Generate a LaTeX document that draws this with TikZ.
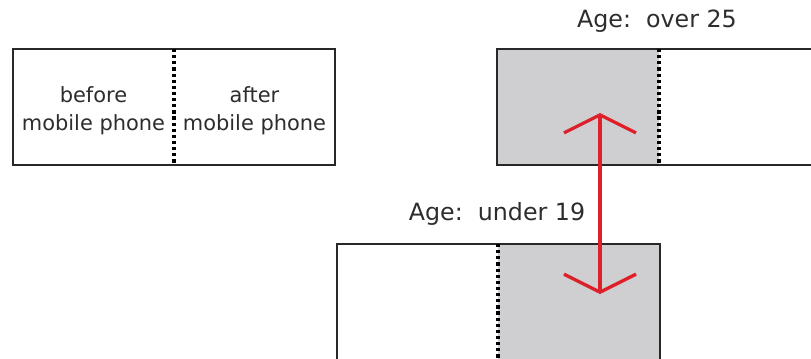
\documentclass[tikz,border=0pt]{standalone}
\usepackage{fontspec}
\setmainfont{DejaVu Sans}
\usetikzlibrary{arrows.meta}

\definecolor{boxgray}{RGB}{207,207,210}
\definecolor{textgray}{RGB}{45,45,45}
\definecolor{arrowred}{RGB}{222,32,42}

\tikzset{every picture/.style={line width=0.75pt}}
\tikzset{
  boxline/.style={draw={rgb, 255:red, 40; green, 40; blue, 40}, line width=1.2pt},
  divider/.style={draw=black, line width=2.7pt, dash pattern=on 2.4pt off 2.2pt},
  boxtext/.style={text=textgray, font=\fontsize{15.7}{21}\selectfont, align=center},
  agelabel/.style={text=textgray, font=\fontsize{17.8}{20}\selectfont},
  redarrow/.style={draw=arrowred, line width=2.5pt, {Straight Barb[length=13.5pt,width=54pt]}-{Straight Barb[length=13.5pt,width=54pt]}}
}

\begin{document}
\begin{tikzpicture}[x=0.75pt,y=0.75pt,yscale=-1,xscale=1]
	\useasboundingbox (0,0) rectangle (811,358);
	\clip (0,0) rectangle (811,358);

	%Shape: Rectangle [id:legend]
	\draw  [boxline][fill=white] (13,49) -- (335,49) -- (335,165) -- (13,165) -- cycle ;
	\draw  [divider] (174,49) -- (174,165) ;
	\node [boxtext] (before) at (93.5,111) {before\\mobile phone};
	\node [boxtext] (after) at (254.5,111) {after\\mobile phone};

	%Shape: Rectangle [id:over25]
	\draw  [draw opacity=0][fill=boxgray] (497,49) -- (659,49) -- (659,165) -- (497,165) -- cycle ;
	\draw  [boxline] (820,49) -- (497,49) -- (497,165) -- (820,165) ;
	\draw  [divider] (659,49) -- (659,165) ;
	\node [agelabel] (over) at (657,21) {Age:\ \ over 25};

	%Shape: Rectangle [id:under19]
	\draw  [draw opacity=0][fill=boxgray] (498,244) -- (660,244) -- (660,370) -- (498,370) -- cycle ;
	\draw  [boxline] (337,370) -- (337,244) -- (660,244) -- (660,370) ;
	\draw  [divider] (498,244) -- (498,370) ;
	\node [agelabel] (under) at (497,214) {Age:\ \ under 19};

	%Straight Lines [id:shift]
	\coordinate (old) at (600,113) ;
	\coordinate (young) at (600,294) ;
	\draw  [redarrow] (young) -- (old) ;

\end{tikzpicture}
\end{document}
